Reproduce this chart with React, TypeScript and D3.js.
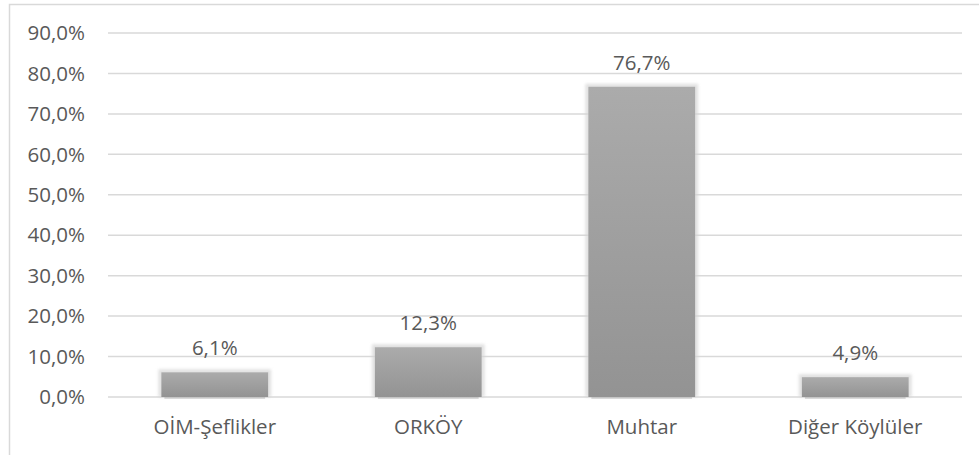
import React, { useEffect, useRef } from 'react';
import * as d3 from 'd3';

const categories = ['OİM-Şeflikler', 'ORKÖY', 'Muhtar', 'Diğer Köylüler'];
const values = [6.1, 12.3, 76.7, 4.9];
const yTicks = [0, 10, 20, 30, 40, 50, 60, 70, 80, 90];

const fmt = (v: number, d: number) => v.toFixed(d).replace('.', ',') + '%';

const App = () => {
  const svgRef = useRef<SVGSVGElement>(null);

  useEffect(() => {
    const root = d3.select(svgRef.current);
    root.selectAll('*').remove();

    const W = 979, H = 455;
    const left = 108, right = 962, top = 33, bottom = 397;
    const font = "'Open Sans', sans-serif";
    const fontSize = '20.5px';
    const textColor = '#595959';

    root.attr('width', W).attr('height', H);

    const defs = root.append('defs');
    const grad = defs.append('linearGradient')
      .attr('id', 'barGrad').attr('x1', 0).attr('y1', 0).attr('x2', 0).attr('y2', 1);
    grad.append('stop').attr('offset', '0%').attr('stop-color', '#ababab');
    grad.append('stop').attr('offset', '100%').attr('stop-color', '#939393');
    const blur = defs.append('filter').attr('id', 'glow')
      .attr('x', '-20%').attr('y', '-20%').attr('width', '140%').attr('height', '140%');
    blur.append('feGaussianBlur').attr('stdDeviation', 1.8);

    root.append('rect')
      .attr('x', 0).attr('y', 0).attr('width', W).attr('height', H).attr('fill', '#fff');
    root.append('rect')
      .attr('x', 9.5).attr('y', 4.5).attr('width', W).attr('height', H)
      .attr('fill', 'none').attr('stroke', '#d9d9d9').attr('stroke-width', 1.5);

    const y = d3.scaleLinear().domain([0, 90]).range([bottom, top]);
    const x = d3.scaleBand().domain(categories).range([left, right]).paddingInner(0.5).paddingOuter(0.25);

    // gridlines
    root.append('g')
      .selectAll('line')
      .data(yTicks)
      .join('line')
      .attr('x1', left).attr('x2', right)
      .attr('y1', d => y(d)).attr('y2', d => y(d))
      .attr('stroke', '#d9d9d9').attr('stroke-width', 1.5);

    // y labels
    root.append('g')
      .selectAll('text')
      .data(yTicks)
      .join('text')
      .attr('x', 85).attr('y', d => y(d))
      .attr('dy', '0.35em')
      .attr('text-anchor', 'end')
      .style('font-family', font).style('font-size', fontSize)
      .attr('fill', textColor)
      .text(d => fmt(d, 1));

    const bars = root.append('g');
    categories.forEach((c, i) => {
      const bx = x(c)!, bw = x.bandwidth();
      const ty = y(values[i]);
      bars.append('rect')
        .attr('x', bx - 3).attr('y', ty - 3)
        .attr('width', bw + 6).attr('height', bottom - ty + 3)
        .attr('fill', '#d4d4d4').attr('opacity', 0.7)
        .attr('filter', 'url(#glow)');
      bars.append('rect')
        .attr('x', bx).attr('y', ty)
        .attr('width', bw).attr('height', bottom - ty)
        .attr('fill', 'url(#barGrad)');
      bars.append('line')
        .attr('x1', bx + 3).attr('x2', bx + bw - 3)
        .attr('y1', bottom + 1).attr('y2', bottom + 1)
        .attr('stroke', '#8a8a8a').attr('stroke-width', 1).attr('opacity', 0.6);
      bars.append('text')
        .attr('x', bx + bw / 2).attr('y', ty - 17)
        .attr('text-anchor', 'middle')
        .style('font-family', font).style('font-size', fontSize)
        .attr('fill', textColor)
        .text(fmt(values[i], 1));
      bars.append('text')
        .attr('x', bx + bw / 2).attr('y', 434)
        .attr('text-anchor', 'middle')
        .style('font-family', font).style('font-size', fontSize)
        .attr('fill', textColor)
        .text(c);
    });
  }, []);

  return (
    <div style={{ position: 'absolute', left: 0, top: 0 }}>
      <svg ref={svgRef} style={{ display: 'block' }}></svg>
    </div>
  );
};

export default App;
